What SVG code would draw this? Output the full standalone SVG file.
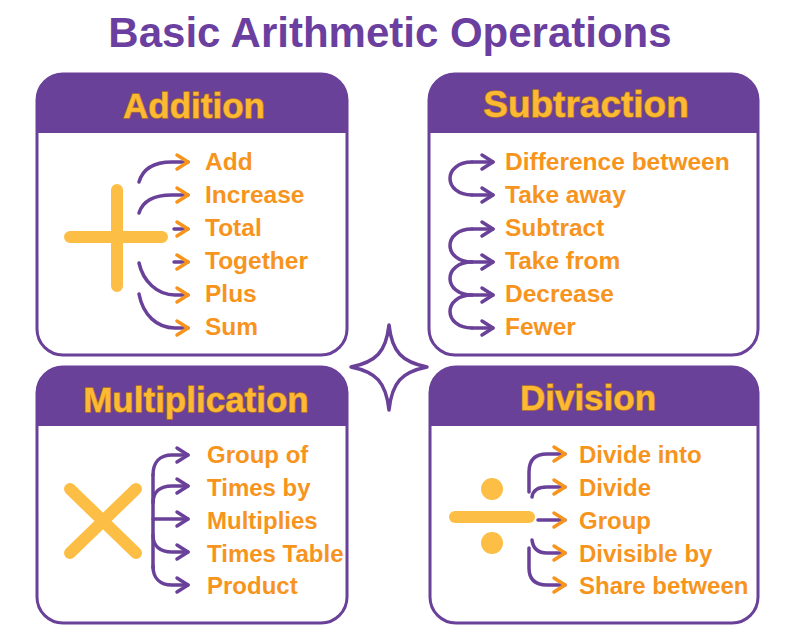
<svg xmlns="http://www.w3.org/2000/svg" width="800" height="643" viewBox="0 0 800 643">
<defs>
<style>
.box{fill:#fff;stroke:#6A4199;stroke-width:3}
.hdr{fill:#6A4199}
.htxt{font-family:"Liberation Sans",Arial,sans-serif;font-weight:700;font-size:35px;fill:#FDB933;stroke:#B9791A;stroke-width:1.4;paint-order:stroke;text-anchor:middle}
.item{font-family:"Liberation Sans",Arial,sans-serif;font-weight:700;font-size:24.5px;fill:#F7941D}
.sm{font-size:24px}
.title{font-family:"Liberation Sans",Arial,sans-serif;font-weight:700;font-size:42px;fill:#6B3FA0;text-anchor:middle}
.sym{stroke:#FDBE45;stroke-width:12;stroke-linecap:round;fill:none}
.con{fill:none;stroke:#6A4199;stroke-width:3.5;stroke-linecap:round;stroke-linejoin:round}
.cp{marker-end:url(#arrP)}
.co{marker-end:url(#arrO)}
</style>
<marker id="arrP" markerUnits="userSpaceOnUse" markerWidth="20" markerHeight="20" refX="14" refY="10" orient="auto" overflow="visible">
<path d="M3,3 L14,10 L3,17" fill="none" stroke="#6A4199" stroke-width="3.5" stroke-linecap="round" stroke-linejoin="round"/>
</marker>
<marker id="arrO" markerUnits="userSpaceOnUse" markerWidth="20" markerHeight="20" refX="14" refY="10" orient="auto" overflow="visible">
<path d="M3,3 L14,10 L3,17" fill="none" stroke="#F7941D" stroke-width="3.5" stroke-linecap="round" stroke-linejoin="round"/>
</marker>
</defs>
<rect width="800" height="643" fill="#fff"/>
<text class="title" x="390" y="47">Basic Arithmetic Operations</text>

<g id="addition">
<rect class="box" x="37" y="74" width="310" height="281" rx="26"/>
<path class="hdr" d="M37,133 V102 A28,28 0 0 1 65,74 H319 A28,28 0 0 1 347,102 V133 Z"/>
<text class="htxt" x="194" y="118">Addition</text>
<path class="sym" d="M117,190 V286 M70,237 H162"/>
<text class="item" x="205" y="170">Add</text>
<text class="item" x="205" y="203">Increase</text>
<text class="item" x="205" y="236">Total</text>
<text class="item" x="205" y="269">Together</text>
<text class="item" x="205" y="302">Plus</text>
<text class="item" x="205" y="335">Sum</text>
</g>

<g id="subtraction">
<rect class="box" x="429" y="74" width="329" height="281" rx="26"/>
<path class="hdr" d="M429,133 V102 A28,28 0 0 1 457,74 H730 A28,28 0 0 1 758,102 V133 Z"/>
<text class="htxt" x="586" y="117" style="font-size:37px">Subtraction</text>
<text class="item" x="505" y="170">Difference between</text>
<text class="item" x="505" y="203">Take away</text>
<text class="item" x="505" y="236">Subtract</text>
<text class="item" x="505" y="269">Take from</text>
<text class="item" x="505" y="302">Decrease</text>
<text class="item" x="505" y="335">Fewer</text>
</g>

<g id="multiplication">
<rect class="box" x="37" y="367" width="310" height="256" rx="26"/>
<path class="hdr" d="M37,426 V395 A28,28 0 0 1 65,367 H319 A28,28 0 0 1 347,395 V426 Z"/>
<text class="htxt" x="196" y="412">Multiplication</text>
<path class="sym" d="M70,489 L136,553 M136,489 L70,553"/>
<text class="item sm" x="207" y="463">Group of</text>
<text class="item sm" x="207" y="496">Times by</text>
<text class="item sm" x="207" y="529">Multiplies</text>
<text class="item sm" x="207" y="562">Times Table</text>
<text class="item sm" x="207" y="594">Product</text>
</g>

<g id="division">
<rect class="box" x="430" y="367" width="328" height="256" rx="26"/>
<path class="hdr" d="M430,426 V395 A28,28 0 0 1 458,367 H730 A28,28 0 0 1 758,395 V426 Z"/>
<text class="htxt" x="588" y="410">Division</text>
<path class="sym" d="M455,517 H529"/>
<circle cx="492" cy="489" r="11" fill="#FDBE45"/>
<circle cx="492" cy="543" r="11" fill="#FDBE45"/>
<text class="item sm" x="579" y="463">Divide into</text>
<text class="item sm" x="579" y="496">Divide</text>
<text class="item sm" x="579" y="529">Group</text>
<text class="item sm" x="579" y="562">Divisible by</text>
<text class="item sm" x="579" y="594">Share between</text>
</g>

<g id="star">
<path d="M389,325 C392,352 402,362 427,367 C402,372 392,382 389,410 C386,382 376,372 351,367 C376,362 386,352 389,325 Z" fill="#fff" stroke="#6A4199" stroke-width="3.5" stroke-linejoin="round"/>
</g>

<g id="connectors">
<!-- Addition -->
<path class="con co" d="M139,182 C143,168 155,162 172,162 L188,162"/>
<path class="con co" d="M139,213 C143,200 155,195 172,195 L188,195"/>
<path class="con co" d="M174,229 L188,229"/>
<path class="con co" d="M174,262 L188,262"/>
<path class="con co" d="M139,263 C143,281 157,295 175,295 L188,295"/>
<path class="con co" d="M139,294 C143,315 157,328 175,328 L188,328"/>
<!-- Subtraction -->
<path class="con" d="M472,162 C458,162 450,170 450,178.5 C450,187 458,195 472,195"/>
<path class="con" d="M472,229 C458,229 450,237 450,245.5 C450,254 458,262 472,262"/>
<path class="con" d="M472,262 C458,262 450,270 450,278.5 C450,287 458,295 472,295"/>
<path class="con" d="M472,295 C458,295 450,303 450,311.5 C450,320 458,328 472,328"/>
<path class="con cp" d="M472,162 H493"/>
<path class="con cp" d="M472,195 H493"/>
<path class="con cp" d="M472,229 H493"/>
<path class="con cp" d="M472,262 H493"/>
<path class="con cp" d="M472,295 H493"/>
<path class="con cp" d="M472,328 H493"/>
<!-- Multiplication -->
<path class="con" d="M153,475 V568"/>
<path class="con cp" d="M153,475 C153,462 160,455 172,455 H188"/>
<path class="con cp" d="M153,503 C153,492 160,486 172,486 H188"/>
<path class="con cp" d="M153,519 H188"/>
<path class="con cp" d="M153,535 C153,546 160,552 172,552 H188"/>
<path class="con cp" d="M153,566 C153,578 160,585 172,585 H188"/>
<!-- Division -->
<path class="con co" d="M529,492 V472 C529,460 535,454 547,454 H565"/>
<path class="con co" d="M532,497 C533,490 538,487 547,487 H565"/>
<path class="con co" d="M538,520 H565"/>
<path class="con co" d="M532,540 C533,548 538,553 547,553 H565"/>
<path class="con co" d="M529,548 V568 C529,579 535,585 547,585 H565"/>
</g>
</svg>
